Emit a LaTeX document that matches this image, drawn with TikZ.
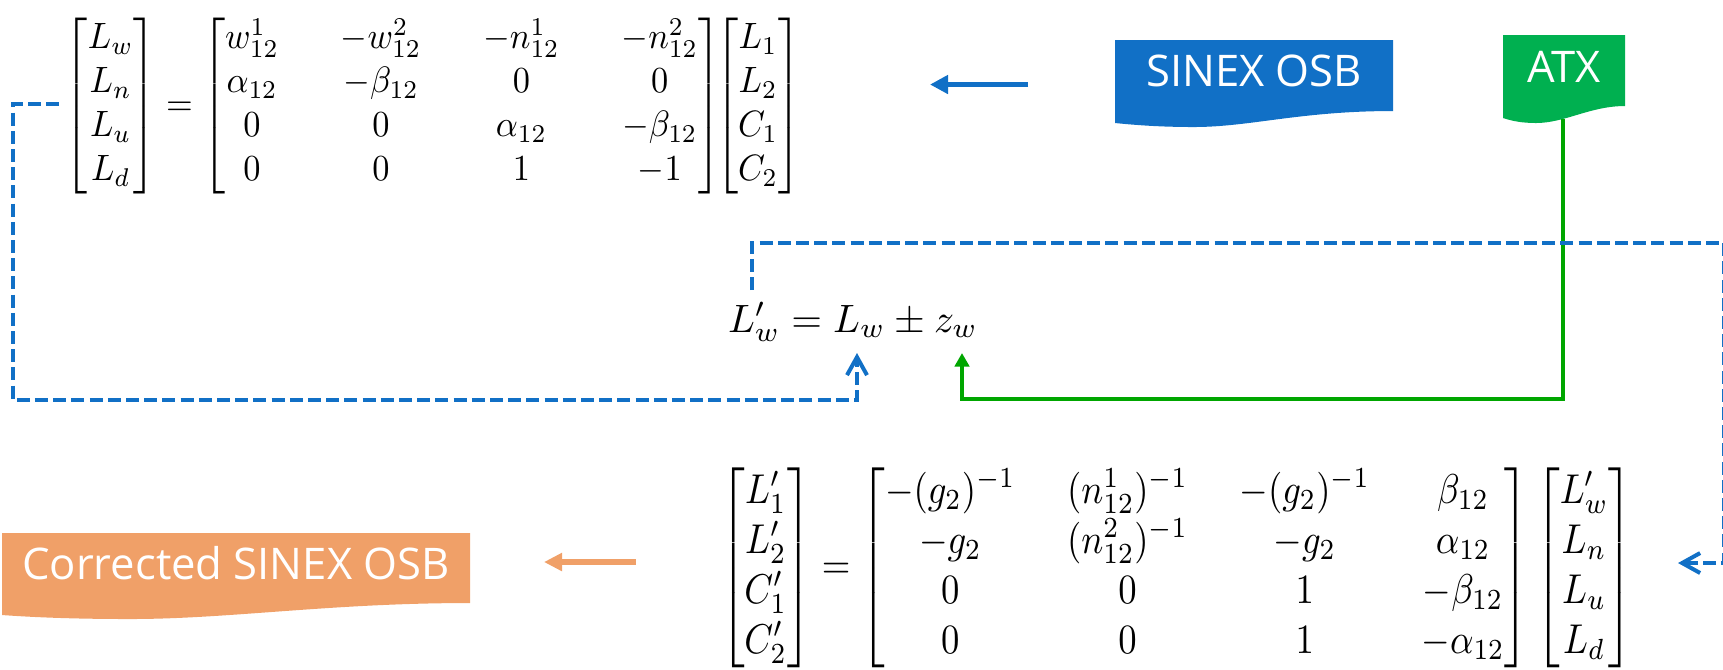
\documentclass[tikz,border=0pt]{standalone}
\usepackage{amsmath}
\usepackage{graphicx}
\usepackage{fontspec}
\newfontfamily\boxfont{Open Sans}
\usetikzlibrary{arrows.meta}
\definecolor{osbblue}{RGB}{17,112,198}
\definecolor{atxgreen}{RGB}{0,176,80}
\definecolor{linegreen}{RGB}{0,166,0}
\definecolor{corrorange}{RGB}{240,160,104}
\begin{document}
\begin{tikzpicture}[x=0.25pt,y=-0.25pt,
  boxlabel/.style={text=white,font=\boxfont\fontsize{10.9}{13}\selectfont,inner sep=0pt,anchor=base},
  eqn/.style={inner sep=0pt},
  bluedash/.style={draw=osbblue,line width=1pt,dash pattern=on 3.25pt off 1.3pt,
    -{Straight Barb[length=4.5pt,width=5pt,line width=1pt]}},
  greenline/.style={draw=linegreen,line width=1pt,-{Triangle[length=3.4pt,width=3.6pt]}},
  bluearrow/.style={draw=osbblue,line width=1.25pt,-{Triangle[length=4.5pt,width=4.5pt]}},
  orangearrow/.style={draw=corrorange,line width=1.5pt,-{Triangle[length=4.5pt,width=4.3pt]}}
]
\useasboundingbox (0,0) rectangle (1723,669);

% boxes
\fill[osbblue] (1115,40) -- (1393,40) -- (1393,111) .. controls (1300,111) and (1250,127) .. (1194,127) .. controls (1160,127) and (1135,125) .. (1115,123) -- cycle;
\fill[atxgreen] (1503,35) -- (1625,35) -- (1625,106) .. controls (1590,106) and (1565,123) .. (1536,123) .. controls (1522,123) and (1512,121) .. (1503,118) -- cycle;
\fill[corrorange] (2,533) -- (470,533) -- (470,603) .. controls (330,603) and (230,619) .. (130,619) .. controls (70,619) and (30,617) .. (2,615) -- cycle;

\node[boxlabel] (sinex) at (1254,86) {SINEX OSB};
\node[boxlabel] (atx) at (1564,82) {ATX};
\node[boxlabel] (corr) at (236,579) {Corrected SINEX OSB};

% equations
\node[eqn] (eqA) at (433,106) {\setlength{\arraycolsep}{9pt}\resizebox*{184pt}{44pt}{$\displaystyle
\begin{bmatrix}L_w\\L_n\\L_u\\L_d\end{bmatrix}
=
\begin{bmatrix} w_{12}^{1} & -w_{12}^{2} & -n_{12}^{1} & -n_{12}^{2}\\
\alpha_{12} & -\beta_{12} & 0 & 0\\
0 & 0 & \alpha_{12} & -\beta_{12}\\
0 & 0 & 1 & -1\end{bmatrix}\!\!
\begin{bmatrix}L_1\\L_2\\C_1\\C_2\end{bmatrix}$}};

\node[eqn,anchor=base] (eqB) at (853,332) {\resizebox{62.5pt}{!}{$L'_w = L_w \pm z_w$}};

\node[eqn] (eqC) at (1176.5,568) {\setlength{\arraycolsep}{7pt}\resizebox*{228.25pt}{50pt}{$\displaystyle
\begin{bmatrix}L'_1\\L'_2\\C'_1\\C'_2\end{bmatrix}
=
\begin{bmatrix} -(g_2)^{-1} & (n_{12}^{1})^{-1} & -(g_2)^{-1} & \beta_{12}\\
-g_2 & (n_{12}^{2})^{-1} & -g_2 & \alpha_{12}\\
0 & 0 & 1 & -\beta_{12}\\
0 & 0 & 1 & -\alpha_{12}\end{bmatrix}
\begin{bmatrix}L'_w\\L_n\\L_u\\L_d\end{bmatrix}$}};

% connectors
\coordinate (dA0) at (59,104);
\coordinate (dA1) at (13,104);
\coordinate (dA2) at (13,400);
\coordinate (dA3) at (857,400);
\coordinate (tipA) at (857,353);
\draw[bluedash] (dA0) -- (dA1) -- (dA2) -- (dA3) -- (tipA);

\coordinate (atxbot) at (1563,119);
\coordinate (gB1) at (1563,399);
\coordinate (gB2) at (962,399);
\coordinate (tipB) at (962,353);
\draw[greenline] (atxbot) -- (gB1) -- (gB2) -- (tipB);

\coordinate (dC0) at (752,290);
\coordinate (dC1) at (752,243);
\coordinate (dC2) at (1724,243);
\coordinate (dC3) at (1724,563);
\coordinate (tipC) at (1678,563);
\draw[bluedash] (dC0) -- (dC1) -- (dC2) -- (dC3) -- (tipC);

\coordinate (sinexout) at (1028,84.5);
\coordinate (tipD) at (930,84.5);
\draw[bluearrow] (sinexout) -- (tipD);

\coordinate (eqCout) at (636,562);
\coordinate (tipE) at (544,562);
\draw[orangearrow] (eqCout) -- (tipE);
\end{tikzpicture}
\end{document}
